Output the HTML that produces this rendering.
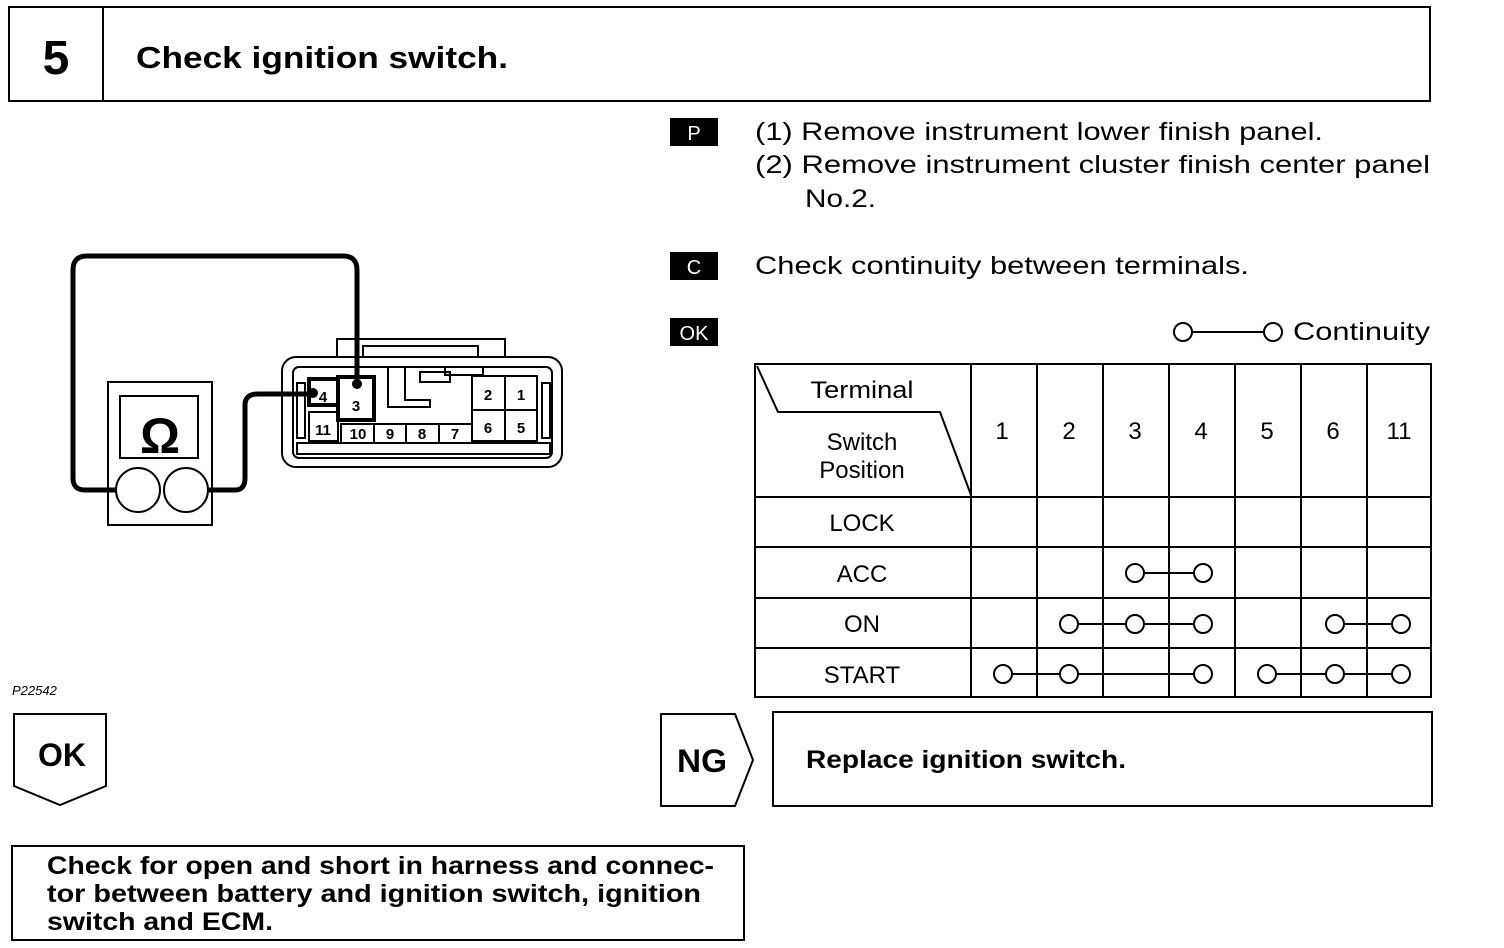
<!DOCTYPE html>
<html><head><meta charset="utf-8"><style>
html,body{margin:0;padding:0;background:#fff}
svg{display:block}
text{font-family:"Liberation Sans",Arial,sans-serif;fill:#000}
.b{font-weight:bold}
</style></head><body>
<svg width="1504" height="948" viewBox="0 0 1504 948" xmlns="http://www.w3.org/2000/svg">
<g fill="none" stroke="#000" stroke-width="2">
<rect x="9" y="7" width="1421" height="94"/>
<line x1="103" y1="7" x2="103" y2="101"/>
</g>
<text x="56" y="74" font-size="48" class="b" text-anchor="middle">5</text>
<text x="136" y="68" font-size="31" class="b" textLength="372" lengthAdjust="spacingAndGlyphs">Check ignition switch.</text>

<rect x="670" y="118" width="48" height="28" fill="#000"/>
<text x="694" y="140" font-size="20" text-anchor="middle" style="fill:#fff">P</text>
<rect x="670" y="252" width="48" height="28" fill="#000"/>
<text x="694" y="274" font-size="20" text-anchor="middle" style="fill:#fff">C</text>
<rect x="670" y="318" width="48" height="28" fill="#000"/>
<text x="694" y="340" font-size="20" text-anchor="middle" style="fill:#fff">OK</text>

<g font-size="25">
<text x="755" y="140" textLength="568" lengthAdjust="spacingAndGlyphs">(1) Remove instrument lower finish panel.</text>
<text x="755" y="173" textLength="675" lengthAdjust="spacingAndGlyphs">(2) Remove instrument cluster finish center panel</text>
<text x="805" y="207" textLength="71" lengthAdjust="spacingAndGlyphs">No.2.</text>
<text x="755" y="274" textLength="494" lengthAdjust="spacingAndGlyphs">Check continuity between terminals.</text>
<text x="1293" y="340" textLength="137" lengthAdjust="spacingAndGlyphs">Continuity</text>
</g>
<g fill="#fff" stroke="#000" stroke-width="2">
<line x1="1192" y1="332" x2="1264" y2="332"/>
<circle cx="1183" cy="332" r="9"/><circle cx="1273" cy="332" r="9"/>
</g>

<g fill="none" stroke="#000" stroke-width="2">
<rect x="755" y="364" width="676" height="333"/>
<line x1="971" y1="364" x2="971" y2="697"/>
<line x1="1037" y1="364" x2="1037" y2="697"/>
<line x1="1103" y1="364" x2="1103" y2="697"/>
<line x1="1169" y1="364" x2="1169" y2="697"/>
<line x1="1235" y1="364" x2="1235" y2="697"/>
<line x1="1301" y1="364" x2="1301" y2="697"/>
<line x1="1367" y1="364" x2="1367" y2="697"/>
<line x1="755" y1="497" x2="1431" y2="497"/>
<line x1="755" y1="547" x2="1431" y2="547"/>
<line x1="755" y1="598" x2="1431" y2="598"/>
<line x1="755" y1="648" x2="1431" y2="648"/>
<polyline points="757,366 778,412 940,412 971,495"/>
</g>
<g font-size="24" text-anchor="middle">
<text x="862" y="398" textLength="103" lengthAdjust="spacingAndGlyphs">Terminal</text>
<text x="862" y="450">Switch</text>
<text x="862" y="478">Position</text>
<text x="1002" y="439">1</text><text x="1069" y="439">2</text><text x="1135" y="439">3</text>
<text x="1201" y="439">4</text><text x="1267" y="439">5</text><text x="1333" y="439">6</text>
<text x="1399" y="439">11</text>
<text x="862" y="531">LOCK</text>
<text x="862" y="582">ACC</text>
<text x="862" y="632">ON</text>
<text x="862" y="683">START</text>
</g>
<g fill="#fff" stroke="#000" stroke-width="2">
<line x1="1135" y1="573" x2="1203" y2="573"/>
<circle cx="1135" cy="573" r="9"/><circle cx="1203" cy="573" r="9"/>
<line x1="1069" y1="624" x2="1203" y2="624"/>
<line x1="1335" y1="624" x2="1401" y2="624"/>
<circle cx="1069" cy="624" r="9"/><circle cx="1135" cy="624" r="9"/><circle cx="1203" cy="624" r="9"/>
<circle cx="1335" cy="624" r="9"/><circle cx="1401" cy="624" r="9"/>
<line x1="1003" y1="674" x2="1203" y2="674"/>
<line x1="1267" y1="674" x2="1401" y2="674"/>
<circle cx="1003" cy="674" r="9"/><circle cx="1069" cy="674" r="9"/><circle cx="1203" cy="674" r="9"/>
<circle cx="1267" cy="674" r="9"/><circle cx="1335" cy="674" r="9"/><circle cx="1401" cy="674" r="9"/>
</g>

<g fill="none" stroke="#000" stroke-width="5" stroke-linejoin="round">
<path d="M116,490 H85 Q73,490 73,478 V270 Q73,256 87,256 H343 Q357,256 357,270 V385"/>
<path d="M209,490 H235 Q245,490 245,478 V405 Q245,394 258,394 H313"/>
</g>
<circle cx="357" cy="384" r="5" fill="#000"/>
<circle cx="313" cy="393" r="5" fill="#000"/>
<g fill="none" stroke="#000" stroke-width="2">
<rect x="108" y="382" width="104" height="143"/>
<rect x="120" y="396" width="78" height="62"/>
<circle cx="138" cy="490" r="22"/><circle cx="186" cy="490" r="22"/>
<rect x="282" y="357" width="280" height="110" rx="14"/>
<rect x="293" y="367" width="259" height="91" rx="6"/>
<path d="M337,357 V339 H505 V357"/>
<path d="M363,357 V346 H478 V357"/>
<rect x="297" y="383" width="8" height="55"/>
<rect x="542" y="383" width="8" height="55"/>
<rect x="297" y="443" width="253" height="11"/>
<path d="M388,367 V407 H430 V400 H405 V367"/>
<path d="M405,367 H445 V375 H483 V367"/>
<rect x="420" y="372" width="30" height="10"/>
<rect x="309" y="379" width="29" height="26" stroke-width="4"/>
<rect x="338" y="377" width="36" height="43" stroke-width="4"/>
<rect x="309" y="412" width="29" height="29"/>
<rect x="341" y="424" width="33" height="19"/>
<rect x="374" y="424" width="32" height="19"/>
<rect x="406" y="424" width="33" height="19"/>
<rect x="439" y="424" width="33" height="19"/>
<rect x="472" y="376" width="33" height="34"/>
<rect x="505" y="376" width="32" height="34"/>
<rect x="472" y="410" width="33" height="31"/>
<rect x="505" y="410" width="32" height="31"/>
</g>
<text x="160" y="453" font-size="50" class="b" text-anchor="middle">Ω</text>
<g font-size="15" class="b" text-anchor="middle">
<text x="323" y="402">4</text><text x="356" y="411">3</text><text x="323" y="435">11</text>
<text x="358" y="439">10</text><text x="390" y="439">9</text><text x="422" y="439">8</text>
<text x="455" y="439">7</text><text x="488" y="400">2</text><text x="521" y="400">1</text>
<text x="488" y="433">6</text><text x="521" y="433">5</text>
</g>
<text x="12" y="695" font-size="13" font-style="italic">P22542</text>

<g fill="none" stroke="#000" stroke-width="2">
<polygon points="14,714 106,714 106,786 60,805 14,786"/>
<polygon points="661,714 735,714 753,760 735,806 661,806"/>
<rect x="773" y="712" width="659" height="94"/>
<rect x="12" y="846" width="732" height="94"/>
</g>
<text x="38" y="766" font-size="32" class="b" textLength="48" lengthAdjust="spacingAndGlyphs">OK</text>
<text x="677" y="772" font-size="32" class="b" textLength="50" lengthAdjust="spacingAndGlyphs">NG</text>
<text x="806" y="768" font-size="25" class="b" textLength="320" lengthAdjust="spacingAndGlyphs">Replace ignition switch.</text>
<g font-size="25" class="b">
<text x="47" y="874" textLength="667" lengthAdjust="spacingAndGlyphs">Check for open and short in harness and connec-</text>
<text x="47" y="902" textLength="654" lengthAdjust="spacingAndGlyphs">tor between battery and ignition switch, ignition</text>
<text x="47" y="930" textLength="226" lengthAdjust="spacingAndGlyphs">switch and ECM.</text>
</g>
</svg>
</body></html>
